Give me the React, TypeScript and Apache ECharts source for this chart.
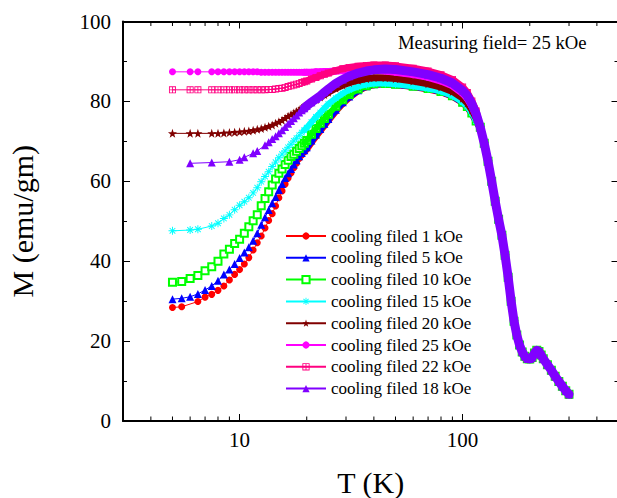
import React, { useEffect, useRef } from 'react';
import * as echarts from 'echarts';

// Temperature grids (K)
const lowT = [5, 5.5, 6, 6.5, 7, 7.5, 8, 8.5, 9, 9.5, 10, 10.5, 11, 11.5, 12, 12.5, 13, 13.5, 14, 14.5, 15, 15.5, 16, 16.5, 17, 17.5, 18, 18.5, 19, 19.5];
const midT = [20, 21, 22, 23, 24, 25, 27, 29, 31, 34, 37, 40, 45, 50, 60, 70, 80, 90, 100, 105, 110, 115];
const tailT = [120, 125, 130, 135, 140, 145, 150, 155, 160, 165, 170, 175, 180, 185, 190, 195, 200, 205, 210, 215, 220, 225, 230, 240, 250, 260, 270, 280, 290, 300];
// Common high-temperature magnetization (emu/gm)
const tailM = [73.5, 69.5, 65.0, 60.0, 55.0, 50.5, 46.5, 41.5, 36.0, 30.0, 25.0, 21.5, 19.0, 17.3, 16.2, 15.6, 15.5, 15.9, 17.0, 17.7, 17.4, 16.5, 15.6, 14.1, 12.7, 11.2, 9.9, 8.7, 7.6, 6.7];

// Series values on lowT + midT
const m1kOe = [28.4, 28.6, null, 29.9, 31.0, 31.7, 32.7, 33.8, 35.3, 36.7, 37.9, 39.3, 40.9, 42.8, 44.6, 46.3, 48.3, 50.2, 51.9, 53.8, 55.9, 57.6, 59.3, 60.8, 62.1, 63.4, 64.5, 65.7, 66.6, 67.4,
  68.1, 69.8, 71.3, 72.7, 74.0, 75.3, 77.6, 79.5, 81.0, 82.7, 83.7, 84.2, 84.4, 84.2, 83.7, 83.1, 82.4, 81.3, 79.7, 78.6, 77.0, 75.0];
const m5kOe = [30.5, 30.7, 31.1, 31.8, 32.8, 33.8, 35.1, 36.7, 37.9, 39.3, 40.8, 42.2, 43.5, 45.1, 47.0, 49.1, 51.0, 52.8, 54.5, 56.1, 57.8, 59.3, 60.8, 62.0, 63.1, 64.2, 65.3, 66.3, 67.1, 67.8,
  68.5, 70.2, 71.7, 73.1, 74.4, 75.6, 77.9, 79.8, 81.2, 82.8, 83.8, 84.3, 84.5, 84.3, 83.8, 83.2, 82.5, 81.4, 79.8, 78.7, 77.1, 75.1];
const m10kOe = [34.7, 34.9, 35.7, 36.4, 37.6, 38.6, 40.0, 41.8, 43.0, 44.4, 45.5, 47.0, 48.6, 50.1, 51.6, 53.9, 55.7, 57.4, 59.1, 60.6, 62.0, 63.1, 64.2, 65.3, 66.2, 66.8, 67.5, 68.2, 68.9, 69.5,
  70.2, 71.8, 73.2, 74.5, 75.7, 76.8, 78.8, 80.4, 81.7, 83.1, 83.9, 84.4, 84.5, 84.3, 83.8, 83.2, 82.5, 81.4, 79.8, 78.7, 77.1, 75.1];
const m15kOe = [47.6, null, 47.8, 48.0, null, 48.8, 49.5, 50.7, 51.6, 52.9, 54.0, 54.9, 55.9, 57.1, 58.4, 59.9, 61.2, 62.4, 63.7, 64.8, 65.9, 66.8, 67.6, 68.5, 69.3, 70.1, 70.8, 71.5, 72.2, 72.8,
  73.4, 74.8, 76.1, 77.2, 78.3, 79.3, 80.8, 82.0, 82.9, 83.7, 84.2, 84.5, 84.5, 84.3, 83.8, 83.2, 82.5, 81.4, 79.8, 78.7, 77.1, 75.1];
const m20kOe = [72.0, null, 72.0, 72.0, null, 72.0, 72.0, 72.1, 72.2, 72.3, 72.4, 72.5, 72.6, 72.8, 73.0, 73.2, 73.5, 73.8, 74.1, 74.5, 74.9, 75.3, 75.8, 76.3, 76.7, 77.1, 77.5, 77.9, 78.3, 78.7,
  79.1, 79.8, 80.5, 81.1, 81.7, 82.3, 83.3, 84.1, 84.7, 85.3, 85.7, 85.9, 85.9, 85.7, 85.1, 84.4, 83.6, 82.5, 80.8, 79.6, 77.9, 75.8];
const m25kOe = [87.4, null, 87.4, 87.4, null, 87.4, 87.4, 87.4, 87.4, 87.4, 87.4, 87.4, 87.4, 87.4, 87.4, 87.3, 87.3, 87.3, 87.3, 87.3, 87.3, 87.3, 87.3, 87.3, 87.3, 87.3, 87.3, 87.3, 87.3, 87.3,
  87.3, 87.3, 87.4, 87.4, 87.5, 87.5, 87.6, 87.7, 87.7, 87.8, 87.8, 87.8, 87.6, 87.3, 86.7, 86.0, 85.1, 83.9, 82.0, 80.7, 78.8, 76.4];
const m22kOe = [82.9, null, 82.9, 82.9, null, 82.9, 82.9, 82.9, 82.9, 82.9, 82.9, 82.9, 82.9, 82.9, 82.9, 82.9, 82.9, 83.0, 83.0, 83.1, 83.2, 83.3, 83.5, 83.7, 83.9, 84.1, 84.3, 84.5, 84.7, 84.9,
  85.1, 85.6, 86.0, 86.4, 86.8, 87.1, 87.7, 88.2, 88.5, 88.8, 89.0, 89.1, 89.1, 88.9, 88.3, 87.6, 86.7, 85.5, 83.6, 82.2, 80.1, 77.6];
const m18kOe = [null, null, 64.5, null, null, 64.7, null, null, 64.9, null, 65.4, 66.0, null, 67.0, 67.6, null, 69.0, 69.8, 70.6, 71.3, 72.0, 72.8, 73.6, 74.4, 75.1, 75.8, 76.5, 77.2, 77.8, 78.3,
  78.9, 79.8, 80.6, 81.4, 82.3, 83.1, 84.5, 85.5, 86.3, 87.1, 87.6, 87.9, 88.1, 88.0, 87.4, 86.7, 85.8, 84.6, 82.7, 81.4, 79.4, 76.9];

const seriesNames = [
  'cooling filed 1 kOe', 'cooling filed 5 kOe', 'cooling filed 10 kOe', 'cooling filed 15 kOe',
  'cooling filed 20 kOe', 'cooling filed 25 kOe', 'cooling filed 22 kOe', 'cooling filed 18 kOe',
];
const seriesValues = [m1kOe, m5kOe, m10kOe, m15kOe, m20kOe, m25kOe, m22kOe, m18kOe];

const xMinorTicks = [4, 5, 6, 7, 8, 9, 20, 30, 40, 50, 60, 70, 80, 90, 200, 300, 400];

const ASTERISK = 'path://M-0.6,-5 L0.6,-5 L0.6,5 L-0.6,5 Z M-5,-0.6 L5,-0.6 L5,0.6 L-5,0.6 Z M-3.96,-3.12 L-3.12,-3.96 L3.96,3.12 L3.12,3.96 Z M-3.12,3.96 L-3.96,3.12 L3.12,-3.96 L3.96,-3.12 Z';
const STAR = 'path://M0,-5 L1.176,-1.618 L4.755,-1.545 L1.902,0.618 L2.939,4.045 L0,2 L-2.939,4.045 L-1.902,0.618 L-4.755,-1.545 L-1.176,-1.618 Z';
const BOXCROSS = 'path://M-4,-4 L4,-4 L4,4 L-4,4 Z M-3,-3 L-3,3 L3,3 L3,-3 Z M-0.5,-3 L0.5,-3 L0.5,3 L-0.5,3 Z M-3,-0.5 L3,-0.5 L3,0.5 L-3,0.5 Z';

const styles = [
  { color: '#ff0000', symbol: 'circle', size: 7, band: 7 },
  { color: '#0000ff', symbol: 'triangle', size: 8, band: 7 },
  { color: '#00ff00', symbol: 'emptyRect', size: 7, band: 6 },
  { color: '#00ffff', symbol: ASTERISK, size: 8, band: 6 },
  { color: '#800000', symbol: STAR, size: 9, band: 7 },
  { color: '#ff00ff', symbol: 'circle', size: 7, band: 7 },
  { color: '#ff0080', symbol: BOXCROSS, size: 7, band: 7 },
  { color: '#8000ff', symbol: 'triangle', size: 8, band: 9 },
];

const FONT = 'Liberation Serif';

export default function App() {
  const ref = useRef<HTMLDivElement>(null);
  useEffect(() => {
    document.body.style.margin = '0';
    const chart = echarts.init(ref.current as HTMLDivElement, null, { renderer: 'svg' });
    const temps = [...lowT, ...midT];
    const series: any[] = [];
    seriesValues.forEach((vals, i) => {
      const st = styles[i];
      const pairs: number[][] = [];
      temps.forEach((t, k) => {
        const v = vals[k];
        if (v !== null && v !== undefined) pairs.push([t, v as number]);
      });
      tailT.forEach((t, k) => pairs.push([t, tailM[k]]));
      series.push({
        type: 'line',
        name: seriesNames[i],
        z: 10 + 2 * i,
        data: pairs,
        symbol: st.symbol,
        symbolSize: st.size,
        showAllSymbol: true,
        lineStyle: { color: st.color, width: 1 },
        itemStyle: { color: st.color, borderColor: st.color, borderWidth: st.symbol === 'emptyRect' ? 1.2 : 0 },
        emphasis: { disabled: true },
        animation: false,
      });
      series.push({
        type: 'line',
        name: '__band' + i,
        z: 11 + 2 * i,
        data: pairs.filter((p) => p[0] >= 19.5),
        symbol: 'none',
        showSymbol: false,
        lineStyle: { color: st.color, width: st.band, join: 'round', cap: 'round' },
        silent: true,
        emphasis: { disabled: true },
        animation: false,
      });
    });

    const axisLine = { show: true, onZero: false, lineStyle: { color: '#000', width: 2 } };
    const option: any = {
      animation: false,
      textStyle: { fontFamily: FONT },
      grid: { left: 123, right: -1.5, top: 21.5, bottom: 77, containLabel: false, outerBoundsMode: 'none' },
      legend: {
        data: seriesNames,
        orient: 'vertical',
        left: 280,
        top: 222,
        itemWidth: 40,
        itemHeight: 9,
        itemGap: 3.8,
        selectedMode: false,
        textStyle: { fontSize: 17, color: '#000', fontFamily: FONT, lineHeight: 18 },
      },
      xAxis: [
        {
          type: 'log', logBase: 10, min: 3, max: 500, position: 'bottom',
          axisLine,
          axisTick: { show: true, inside: true, length: 7, lineStyle: { color: '#000', width: 1 } },
          splitLine: { show: false },
          axisLabel: {
            fontSize: 21, color: '#000', margin: 8, fontFamily: FONT,
            formatter: (v: number) => {
              const l = Math.log10(v);
              return Math.abs(l - Math.round(l)) < 1e-6 ? String(Math.round(v)) : '';
            },
          },
          name: 'T (K)', nameLocation: 'middle', nameGap: 46,
          nameTextStyle: { fontSize: 30, color: '#000', fontFamily: FONT },
        },
        {
          type: 'log', logBase: 10, min: 3, max: 500, position: 'top',
          axisLine,
          axisTick: { show: true, inside: true, length: 7, lineStyle: { color: '#000', width: 1 } },
          splitLine: { show: false },
          axisLabel: { show: false },
        },
      ],
      yAxis: [
        {
          type: 'value', min: 0, max: 100, interval: 20, position: 'left',
          axisLine,
          axisTick: { show: true, inside: true, length: 7, lineStyle: { color: '#000', width: 1 } },
          minorTick: { show: true, splitNumber: 2, length: 4, lineStyle: { color: '#000', width: 1 } },
          splitLine: { show: false },
          axisLabel: { fontSize: 21, color: '#000', margin: 12, fontFamily: FONT },
          name: 'M (emu/gm)', nameLocation: 'middle', nameGap: 86,
          nameTextStyle: { fontSize: 30, color: '#000', fontFamily: FONT },
        },
        {
          type: 'value', min: 0, max: 100, interval: 20, position: 'right',
          axisLine,
          axisTick: { show: true, inside: true, length: 7, lineStyle: { color: '#000', width: 1 } },
          minorTick: { show: true, splitNumber: 2, length: 4, lineStyle: { color: '#000', width: 1 } },
          splitLine: { show: false },
          axisLabel: { show: false },
        },
      ],
      series,
    };
    chart.setOption(option);

    const yb = chart.convertToPixel({ yAxisIndex: 0 }, 0) as number;
    const yt = chart.convertToPixel({ yAxisIndex: 0 }, 100) as number;
    const elements: any[] = [
      {
        type: 'text', x: 398, y: 42,
        style: { text: 'Measuring field= 25 kOe', fontSize: 18.7, fontFamily: FONT, fill: '#000', verticalAlign: 'middle', align: 'left' },
      },
    ];
    xMinorTicks.forEach((v) => {
      const x = chart.convertToPixel({ xAxisIndex: 0 }, v) as number;
      elements.push({ type: 'line', shape: { x1: x, y1: yb, x2: x, y2: yb - 4.5 }, style: { stroke: '#000', lineWidth: 1 } });
      elements.push({ type: 'line', shape: { x1: x, y1: yt, x2: x, y2: yt + 4.5 }, style: { stroke: '#000', lineWidth: 1 } });
    });
    chart.setOption({ graphic: { elements } });

    return () => chart.dispose();
  }, []);
  return <div ref={ref} style={{ width: 617, height: 498, position: 'absolute', left: 0, top: 0 }} />;
}
